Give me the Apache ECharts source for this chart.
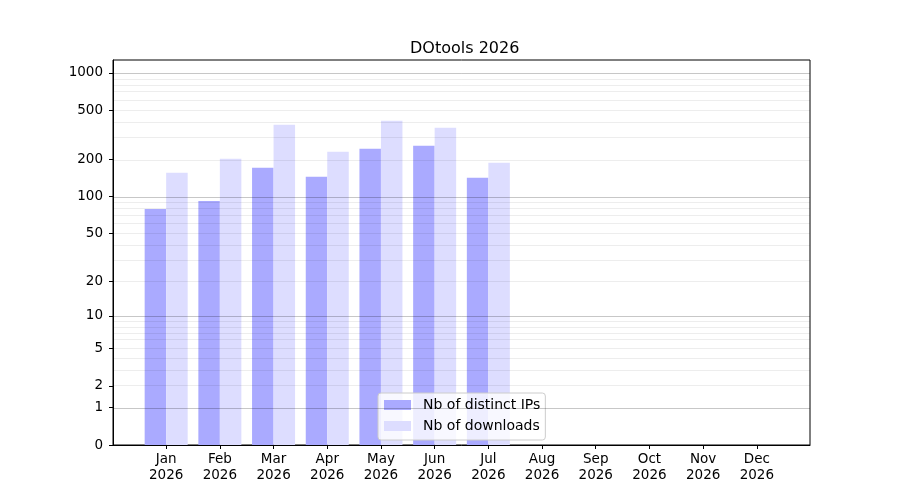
<!DOCTYPE html>
<html>
<head>
<meta charset="utf-8">
<title>DOtools 2026</title>
<script src="https://cdn.jsdelivr.net/npm/echarts@6/dist/echarts.min.js"></script>
<style>
  html, body { margin: 0; padding: 0; background: #fff; }
  #chart { width: 900px; height: 500px; }
</style>
</head>
<body>
<div id="chart"></div>
<script>
// monthly stats
const months = ['Jan', 'Feb', 'Mar', 'Apr', 'May', 'Jun', 'Jul', 'Aug', 'Sep', 'Oct', 'Nov', 'Dec'];
const year = '2026';
const distinctIPs = [79, 92, 171, 145, 244, 258, 142, 0, 0, 0, 0, 0];
const downloads = [156, 203, 382, 231, 411, 361, 188, 0, 0, 0, 0, 0];
const yTicks = [0, 1, 2, 5, 10, 20, 50, 100, 200, 500, 1000];
const majorLines = [1, 10, 100, 1000];
const minorLines = [2, 3, 4, 5, 6, 7, 8, 9, 20, 30, 40, 50, 60, 70, 80, 90, 200, 300, 400, 500, 600, 700, 800, 900];
const yTop = 1273;

// the axis is log10(x + 1)
const fwd = v => Math.log10(v + 1);
const inv = t => Math.round(Math.pow(10, t) - 1);

const font = 'DejaVu Sans';
const monthIdx = months.map((m, i) => i);
const xPad = 0.05 * (months.length - 1 + 0.8);

function barData(vals) {
  return vals.map((v, i) => [i, fwd(v)]);
}

const gridLines = majorLines.map(v => ({
  yAxis: fwd(v), lineStyle: { color: 'rgba(0,0,0,0.22)', width: 1, type: 'solid' }
})).concat(minorLines.map(v => ({
  yAxis: fwd(v), lineStyle: { color: 'rgba(0,0,0,0.07)', width: 1, type: 'solid' }
})));

const chart = echarts.init(document.getElementById('chart'));
chart.setOption({
  animation: false,
  title: {
    text: 'DOtools ' + year,
    left: 405,
    top: 36,
    textStyle: { fontFamily: font, fontSize: 16, fontWeight: 'normal', color: '#000' }
  },
  legend: {
    orient: 'vertical',
    left: 378,
    top: 393,
    itemWidth: 27,
    itemHeight: 10,
    itemGap: 5,
    padding: [4, 5, 6, 6],
    borderColor: '#cccccc',
    borderWidth: 1,
    borderRadius: 3,
    backgroundColor: 'rgba(255,255,255,0.8)',
    icon: 'rect',
    textStyle: { fontFamily: font, fontSize: 14, color: '#000', lineHeight: 16, padding: [0, 0, 0, 7] },
    data: ['Nb of distinct IPs', 'Nb of downloads']
  },
  grid: {
    left: 113, right: 90, top: 60, bottom: 55,
    show: true, borderColor: '#000', borderWidth: 1, backgroundColor: 'transparent'
  },
  xAxis: {
    type: 'value',
    min: -0.4 - xPad,
    max: months.length - 1 + 0.4 + xPad,
    splitLine: { show: false },
    axisLine: { onZero: false, lineStyle: { color: '#000' } },
    axisTick: { customValues: monthIdx, length: 4, lineStyle: { color: '#000' } },
    axisLabel: {
      customValues: monthIdx,
      formatter: v => months[Math.round(v)] + '\n' + year,
      fontFamily: font, fontSize: 13.5, color: '#000', lineHeight: 16.5, margin: 6
    }
  },
  yAxis: {
    type: 'value',
    min: 0,
    max: fwd(yTop),
    splitLine: { show: false },
    axisLine: { show: true, onZero: false, lineStyle: { color: '#000' } },
    axisTick: { show: true, customValues: yTicks.map(fwd), length: 4, lineStyle: { color: '#000' } },
    axisLabel: {
      customValues: yTicks.map(fwd),
      formatter: v => String(inv(v)),
      fontFamily: font, fontSize: 13.5, color: '#000', margin: 10
    }
  },
  series: [
    {
      name: 'Nb of distinct IPs',
      type: 'bar',
      data: barData(distinctIPs),
      barWidth: 21.5,
      barGap: '0%',
      itemStyle: { color: '#aaaaff' }
    },
    {
      name: 'Nb of downloads',
      type: 'bar',
      data: barData(downloads),
      barWidth: 21.5,
      barGap: '0%',
      itemStyle: { color: '#ddddff' },
      markLine: {
        silent: true,
        symbol: 'none',
        label: { show: false },
        data: gridLines
      }
    }
  ]
});
</script>
</body>
</html>
